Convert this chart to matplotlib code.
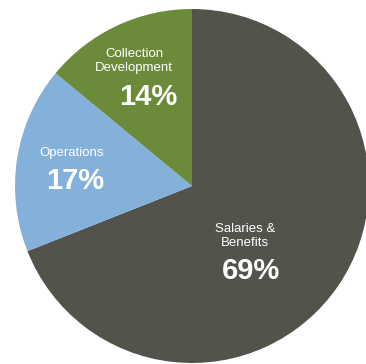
import matplotlib.pyplot as plt

labels = ['Salaries &\nBenefits', 'Operations', 'Collection\nDevelopment']
shares = [69, 17, 14]
colors = ['#54534b', '#84b1da', '#6b8b3a']

# label / percentage positions in pixel coords (x, y from top)
name_pos = [(245, 236), (72, 153), (134, 61)]
pct_pos = [(251, 271), (75, 181), (148, 97)]

W, H = 366, 364
fig = plt.figure(figsize=(W / 100, H / 100), dpi=100)
ax = fig.add_axes([0, 0, 1, 1])

ax.pie(shares, colors=colors, startangle=90, counterclock=False,
       center=(192, H - 186), radius=177, frame=True,
       wedgeprops=dict(linewidth=0))
ax.set_xlim(0, W)
ax.set_ylim(0, H)
ax.set_aspect('equal')
ax.axis('off')

for lab, val, (nx, ny), (px, py) in zip(labels, shares, name_pos, pct_pos):
    ax.text(nx, H - ny, lab, ha='center', va='center', color='white',
            fontsize=9.5, family='Liberation Sans', linespacing=1.15)
    ax.text(px, H - py, f'{val}%', ha='center', va='center', color='white',
            fontsize=21, fontweight='bold', family='Liberation Sans')

fig.savefig('out.png', dpi=100)
